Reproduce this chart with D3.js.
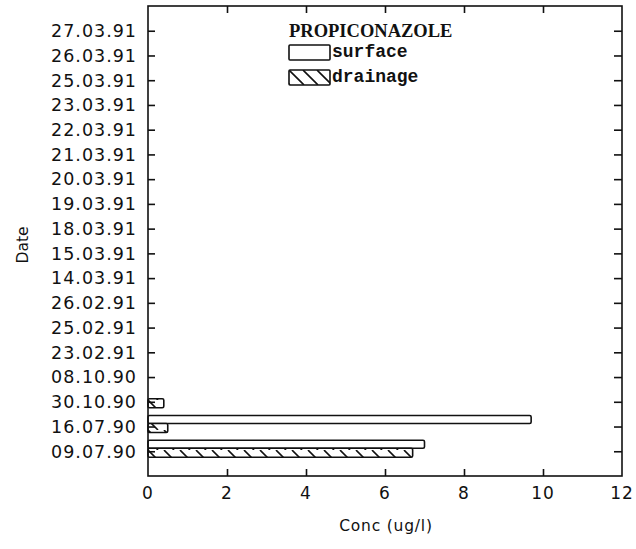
<!DOCTYPE html>
<html><head><meta charset="utf-8">
<script src="https://cdn.jsdelivr.net/npm/d3@7"></script>
<style>body{margin:0;background:#fff}svg{display:block}</style>
</head><body>
<script>
const dates = ["09.07.90","16.07.90","30.10.90","08.10.90","23.02.91","25.02.91","26.02.91","14.03.91","15.03.91","18.03.91","19.03.91","20.03.91","21.03.91","22.03.91","23.03.91","25.03.91","26.03.91","27.03.91"];
const surface = [7.0,9.7,0,0,0,0,0,0,0,0,0,0,0,0,0,0,0,0];
const drainage = [6.7,0.5,0.4,0,0,0,0,0,0,0,0,0,0,0,0,0,0,0];
const xTicks = [0,2,4,6,8,10,12];
const title = "PROPICONAZOLE";
const seriesNames = ["surface","drainage"];

const W=636,H=549, L=148,R=622,T=6,B=476;
const svg=d3.select("body").append("svg").attr("width",W).attr("height",H);
const defs=svg.append("defs");
const pat=defs.append("pattern").attr("id","hatch").attr("patternUnits","userSpaceOnUse")
  .attr("width",16).attr("height",10).attr("x",L).attr("y",0);
pat.append("rect").attr("width",16).attr("height",10).attr("fill","#fff");
pat.append("path").attr("d","M0,0 L10,10 M-16,0 L-6,10 M16,0 L26,10").attr("stroke","#111").attr("stroke-width",1.6);

const x=d3.scaleLinear().domain([0,12]).range([L,R]);
const y=d3.scalePoint().domain(dates).range([B,T]).padding(1);

const ink="#111";
// bars
const g=svg.append("g");
dates.forEach((d,i)=>{
  const c=y(d);
  if(surface[i]>0) g.append("rect").attr("x",x(0)).attr("y",c-11).attr("width",x(surface[i])-x(0)).attr("height",8)
    .attr("fill","#fff").attr("stroke",ink).attr("stroke-width",1.6).attr("rx",1.5);
  if(drainage[i]>0) g.append("rect").attr("x",x(0)).attr("y",c-3).attr("width",x(drainage[i])-x(0)).attr("height",9)
    .attr("fill","url(#hatch)").attr("stroke",ink).attr("stroke-width",1.6).attr("rx",1.5);
});

// frame
svg.append("rect").attr("x",L).attr("y",T).attr("width",R-L).attr("height",B-T)
  .attr("fill","none").attr("stroke",ink).attr("stroke-width",1.6);

const font="'DejaVu Sans', sans-serif";
// left axis
const ax=svg.append("g").attr("transform",`translate(${L},0)`).call(d3.axisRight(y).tickSize(7).tickFormat(""));
ax.select(".domain").remove();
ax.selectAll("line").attr("stroke",ink).attr("stroke-width",1.6);
svg.append("g").selectAll("text").data(dates).join("text")
  .attr("x",137).attr("y",d=>y(d)).attr("dy","0.36em").attr("text-anchor","end")
  .attr("font-family",font).attr("font-size",17.5).attr("letter-spacing",1).attr("fill",ink).text(d=>d);
// right axis
const ar=svg.append("g").attr("transform",`translate(${R},0)`).call(d3.axisLeft(y).tickSize(8).tickFormat(""));
ar.select(".domain").remove();
ar.selectAll("line").attr("stroke",ink).attr("stroke-width",1.6);
// bottom axis
const inner=xTicks.slice(1,-1);
const abx=svg.append("g").attr("transform",`translate(0,${B})`).call(d3.axisTop(x).tickValues(inner).tickSize(7).tickFormat(""));
abx.select(".domain").remove();
abx.selectAll("line").attr("stroke",ink).attr("stroke-width",1.6);
const atx=svg.append("g").attr("transform",`translate(0,${T})`).call(d3.axisBottom(x).tickValues(inner).tickSize(7).tickFormat(""));
atx.select(".domain").remove();
atx.selectAll("line").attr("stroke",ink).attr("stroke-width",1.6);
svg.append("g").selectAll("text").data(xTicks).join("text")
  .attr("x",d=>x(d)).attr("y",499).attr("text-anchor","middle")
  .attr("font-family",font).attr("font-size",17).attr("letter-spacing",1).attr("fill",ink).text(d=>d);

svg.append("text").attr("x",386).attr("y",531).attr("text-anchor","middle")
  .attr("font-family",font).attr("font-size",15.5).attr("letter-spacing",0.8).attr("fill",ink).text("Conc (ug/l)");
svg.append("text").attr("transform","translate(28,245) rotate(-90)").attr("text-anchor","middle")
  .attr("font-family",font).attr("font-size",15.5).attr("fill",ink).text("Date");

// legend
svg.append("text").attr("x",289).attr("y",37).attr("font-family","'Liberation Serif', serif").attr("font-weight","bold")
  .attr("font-size",18.5).attr("fill",ink).text(title);
const fills=["#fff","url(#hatch)"];
seriesNames.forEach((s,i)=>{
  const yy=45+i*25;
  svg.append("rect").attr("x",289).attr("y",yy).attr("width",41).attr("height",15)
    .attr("fill",i?"url(#lhatch)":"#fff").attr("stroke",ink).attr("stroke-width",1.6).attr("rx",1);
  svg.append("text").attr("x",332).attr("y",yy+12).attr("font-family","'Liberation Mono', monospace").attr("font-weight","bold")
    .attr("font-size",18).attr("fill",ink).text(s);
});
const lp=defs.append("pattern").attr("id","lhatch").attr("patternUnits","userSpaceOnUse")
  .attr("width",14).attr("height",15).attr("x",289).attr("y",70);
lp.append("rect").attr("width",14).attr("height",15).attr("fill","#fff");
lp.append("path").attr("d","M0,0 L15,15 M-14,0 L1,15 M14,0 L29,15").attr("stroke",ink).attr("stroke-width",1.6);
</script>
</body></html>
